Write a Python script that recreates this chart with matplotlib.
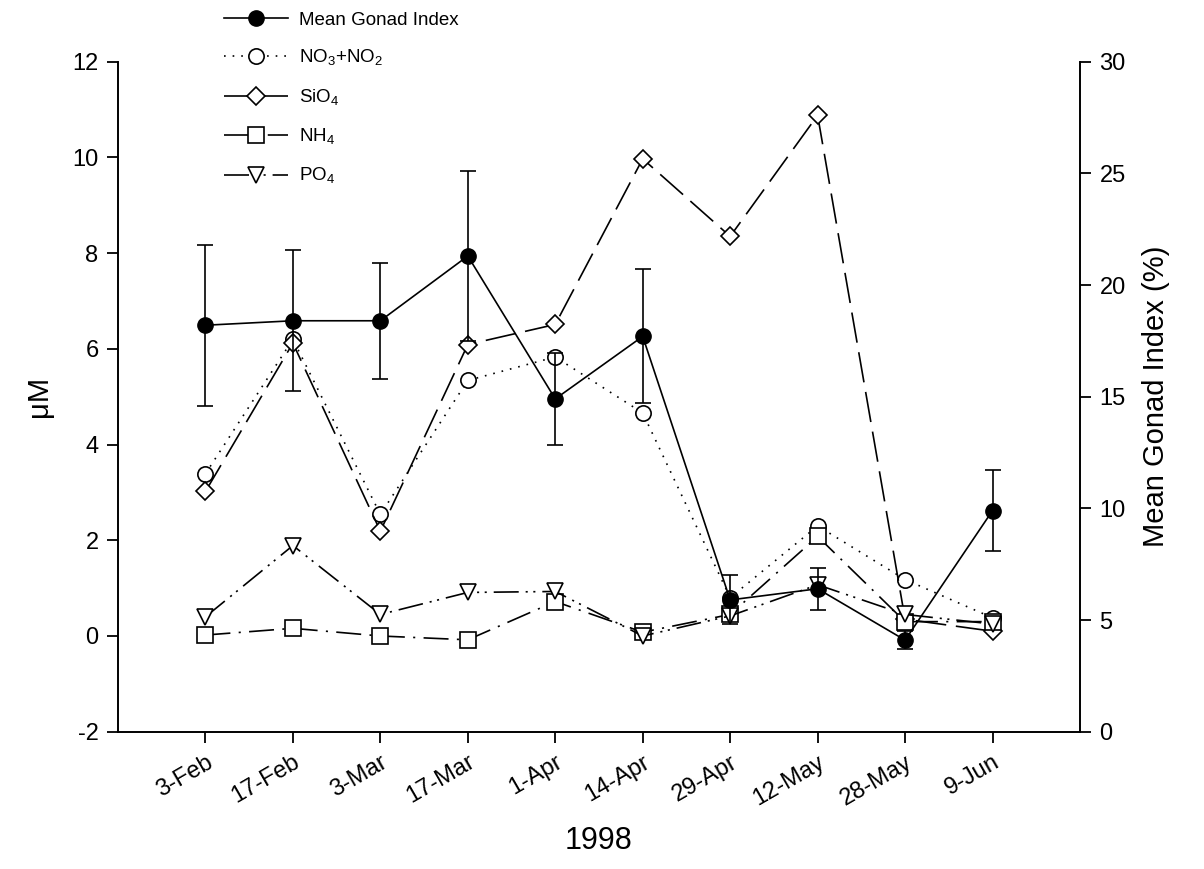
import matplotlib
matplotlib.use("Agg")
import matplotlib.pyplot as plt
import numpy as np

# sampling dates, 1998
dates = ["3-Feb", "17-Feb", "3-Mar", "17-Mar", "1-Apr",
         "14-Apr", "29-Apr", "12-May", "28-May", "9-Jun"]

# nutrients, uM (left axis)
no3_no2 = [3.39, 6.20, 2.54, 5.34, 5.83, 4.66, 0.80, 2.30, 1.18, 0.38]
sio4 = [3.02, 6.12, 2.19, 6.09, 6.51, 9.97, 8.35, 10.88, 0.35, 0.10]
nh4 = [0.02, 0.16, 0.00, -0.08, 0.72, 0.08, 0.45, 2.08, 0.30, 0.30]
po4 = [0.40, 1.89, 0.45, 0.91, 0.93, 0.00, 0.42, 1.07, 0.45, 0.25]

# mean gonad index, % (right axis) and its error
gonad = [18.2, 18.4, 18.4, 21.3, 14.9, 17.7, 5.9, 6.4, 4.1, 9.9]
gonad_err = [3.6, 3.15, 2.6, 3.8, 2.05, 3.0, 1.1, 0.95, 0.4, 1.8]


def main():
    plt.rcParams["font.family"] = ["Liberation Sans", "DejaVu Sans"]
    plt.rcParams["lines.scale_dashes"] = False
    plt.rcParams["axes.unicode_minus"] = False
    plt.rcParams["mathtext.fontset"] = "custom"
    plt.rcParams["mathtext.rm"] = "Liberation Sans"

    xs = np.arange(len(dates))

    fig = plt.figure(figsize=(12.04, 8.69), dpi=100)
    ax = fig.add_axes([0.098, 0.158, 0.799, 0.771])
    ax2 = ax.twinx()

    lw = 1.2
    mk = dict(color="black", markerfacecolor="white", markeredgecolor="black",
              markeredgewidth=1.2, linewidth=lw)

    l_no3, = ax.plot(xs, no3_no2, marker="o", markersize=11,
                     dashes=(1.2, 5), label="NO$_3$+NO$_2$", **mk)
    l_si, = ax.plot(xs, sio4, marker="D", markersize=9,
                    dashes=(22, 7), label="SiO$_4$", **mk)
    l_nh4, = ax.plot(xs, nh4, marker="s", markersize=11,
                     dashes=(18, 6, 1.5, 6), label="NH$_4$", **mk)
    l_po4, = ax.plot(xs, po4, marker="v", markersize=12,
                     dashes=(18, 5, 1.5, 4, 1.5, 5), label="PO$_4$", **mk)

    ax2.errorbar(xs, gonad, yerr=gonad_err, fmt="none", ecolor="black",
                 elinewidth=1.2, capsize=6, capthick=1.2)
    l_g, = ax2.plot(xs, gonad, marker="o", markersize=11, color="black",
                    linewidth=lw, label="Mean Gonad Index")

    ax.set_xlim(-1, 10)
    ax.set_ylim(-2, 12)
    ax2.set_ylim(0, 30)
    ax.set_yticks(np.arange(-2, 13, 2))
    ax2.set_yticks(np.arange(0, 31, 5))
    ax.set_xticks(xs)
    ax.set_xticklabels(dates, rotation=30, ha="right", rotation_mode="anchor")

    for a in (ax, ax2):
        a.spines["top"].set_visible(False)
        for s in a.spines.values():
            s.set_linewidth(1.4)
        a.tick_params(direction="out", length=8, width=1.3, labelsize=17,
                      pad=6)
    ax.spines["right"].set_visible(False)
    ax2.spines["left"].set_visible(False)
    ax2.spines["bottom"].set_visible(False)

    ax.set_ylabel("μM", fontsize=21, labelpad=14)
    ax2.set_ylabel("Mean Gonad Index (%)", fontsize=21, labelpad=12)
    ax.set_xlabel("1998", fontsize=22, labelpad=12)

    fig.legend(handles=[l_g, l_no3, l_si, l_nh4, l_po4],
               loc="upper left", bbox_to_anchor=(0.172, 1.006),
               frameon=False, fontsize=13.5, handlelength=3.4,
               labelspacing=1.02, handletextpad=0.6)

    fig.savefig("out.png", dpi=100)


if __name__ == "__main__":
    main()
